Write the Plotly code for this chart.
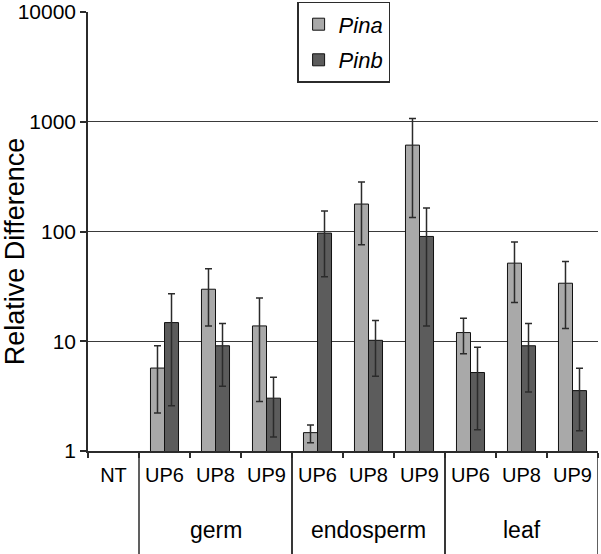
import plotly.graph_objects as go

# ---- data ----
categories = ["NT", "UP6", "UP8", "UP9", "UP6", "UP8", "UP9", "UP6", "UP8", "UP9"]
groups = ["", "germ", "germ", "germ", "endosperm", "endosperm", "endosperm", "leaf", "leaf", "leaf"]

pina = [None, 5.7, 29.8, 13.8, 1.47, 178, 613, 12.0, 51.5, 33.8]
pina_hi = [None, 9.1, 45.8, 24.8, 1.73, 282, 1074, 16.2, 80.2, 53.3]
pina_lo = [None, 2.22, 13.8, 2.82, 1.19, 75.9, 134, 7.7, 22.5, 13.1]

pinb = [None, 14.8, 9.1, 3.03, 96.8, 10.2, 90.2, 5.19, 9.1, 3.55]
pinb_hi = [None, 27.1, 14.5, 4.71, 154, 15.5, 164, 8.83, 14.5, 5.67]
pinb_lo = [None, 2.58, 3.9, 1.34, 38.8, 4.81, 13.8, 1.56, 3.45, 1.53]

y_ticks = [1, 10, 100, 1000, 10000]
grid_vals = [10, 100, 1000]

FONT = "Arial, Liberation Sans, sans-serif"
INK = "#2b2b2b"

xs = list(range(len(categories)))


def err(vals, hi, lo):
    up = [None if v is None else h - v for v, h in zip(vals, hi)]
    dn = [None if v is None else v - l for v, l in zip(vals, lo)]
    return up, dn


a_up, a_dn = err(pina, pina_hi, pina_lo)
b_up, b_dn = err(pinb, pinb_hi, pinb_lo)

fig = go.Figure()
fig.add_trace(go.Bar(
    x=xs, y=pina, name="<i>Pina</i>", legendgroup="a",
    marker=dict(color="#a9a9a9", line=dict(color="#111111", width=1)),
    error_y=dict(type="data", symmetric=False, array=a_up, arrayminus=a_dn,
                 color=INK, thickness=1.5, width=3.5),
))
fig.add_trace(go.Bar(
    x=xs, y=pinb, name="<i>Pinb</i>", legendgroup="b",
    marker=dict(color="#5c5c5c", line=dict(color="#111111", width=1)),
    error_y=dict(type="data", symmetric=False, array=b_up, arrayminus=b_dn,
                 color=INK, thickness=1.5, width=3.5),
))

# group dividers and labels derived from the group list
shapes = []
annotations = []
bounds = []
start = 0
for i in range(1, len(groups) + 1):
    if i == len(groups) or groups[i] != groups[start]:
        if groups[start]:
            bounds.append((start, i - 1, groups[start]))
        start = i
for s, e, name in bounds:
    for bx in (s - 0.5, e + 0.5):
        shapes.append(dict(type="line", xref="x", yref="paper", x0=bx, x1=bx,
                           y0=0, y1=-0.235, line=dict(color=INK, width=1.5)))
    annotations.append(dict(x=(s + e) / 2, y=-0.18, xref="x", yref="paper",
                            text=name, showarrow=False, yanchor="middle",
                            font=dict(family=FONT, size=23, color="black")))

annotations.append(dict(x=-0.143, y=0.455, xref="paper", yref="paper",
                        text="Relative Difference", textangle=-90, showarrow=False,
                        xanchor="center", yanchor="middle",
                        font=dict(family=FONT, size=27, color="black")))

fig.update_layout(
    width=601, height=554,
    margin=dict(l=88, r=3, t=12, b=103, autoexpand=False),
    paper_bgcolor="white", plot_bgcolor="white",
    barmode="group", bargap=0.45, bargroupgap=0,
    font=dict(family=FONT, color="black"),
    showlegend=True,
    legend=dict(x=0.41, y=1.023, xanchor="left", yanchor="top",
                bordercolor=INK, borderwidth=1.5, bgcolor="white",
                font=dict(family=FONT, size=22, color="black"),
                tracegroupgap=4),
    shapes=shapes,
    annotations=annotations,
    xaxis=dict(
        range=[-0.5, len(categories) - 0.5],
        tickmode="array", tickvals=xs, ticktext=categories,
        ticks="", showgrid=False, zeroline=False,
        showline=True, linecolor=INK, linewidth=1.5,
        tickfont=dict(family=FONT, size=20, color="black"),
        ticklabelstandoff=5,
        minor=dict(tickmode="array", tickvals=[i - 0.5 for i in range(len(categories) + 1)],
                   ticks="outside", ticklen=5, tickcolor=INK, tickwidth=1.5, showgrid=False),
    ),
    yaxis=dict(
        type="log", range=[0, 4.0005],
        tickmode="array", tickvals=y_ticks, ticktext=[str(v) for v in y_ticks],
        ticks="outside", ticklen=6, tickcolor=INK, tickwidth=1.5,
        showline=True, linecolor=INK, linewidth=1.5,
        showgrid=False, zeroline=False, ticklabeloverflow="allow",
        tickfont=dict(family=FONT, size=21, color="black"),
        minor=dict(tickmode="array", tickvals=grid_vals, ticks="",
                   showgrid=True, gridcolor="#3a3a3a", gridwidth=1.2),
    ),
)

fig.write_html("out.html", config={"displayModeBar": False},
               post_script="document.body.style.margin='0px';")
